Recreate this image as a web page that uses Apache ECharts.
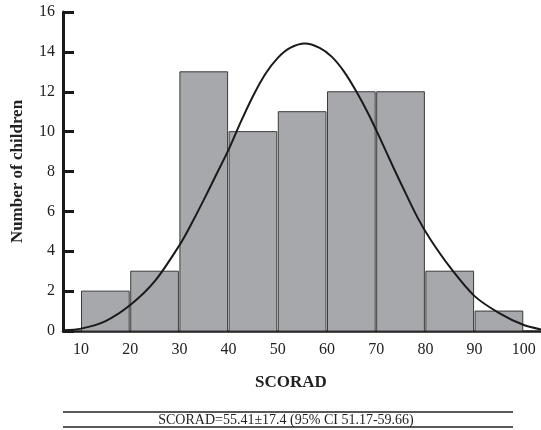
<!DOCTYPE html>
<html>
<head>
<meta charset="utf-8">
<script src="https://cdn.jsdelivr.net/npm/echarts@6/dist/echarts.min.js"></script>
<style>
html,body{margin:0;padding:0;background:#fff;}
#chart{width:541px;height:430px;}
</style>
</head>
<body>
<div id="chart"></div>
<script>
// Histogram bins (SCORAD) and counts
var binStarts = [10, 20, 30, 40, 50, 60, 70, 80, 90];
var binEnds   = [20, 30, 40, 50, 60, 70, 80, 90, 100];
var counts    = [2, 3, 13, 10, 11, 12, 12, 3, 1];

// Fitted normal curve
var curveX = [6.4, 10, 15, 20, 25, 30, 32.5, 35, 37.5, 40, 42.5, 45, 47.5, 50, 52.5, 55.5, 58.5, 61, 63.5, 66, 68.5, 71, 73.5, 76, 78.5, 81, 85, 90, 95, 100, 103.5];
var curveY = [0.04, 0.12, 0.5, 1.3, 2.5, 4.3, 5.4, 6.6, 7.85, 9.1, 10.5, 11.8, 12.9, 13.7, 14.2, 14.42, 14.2, 13.75, 13.0, 12.0, 10.85, 9.55, 8.2, 6.9, 5.65, 4.6, 3.2, 1.75, 0.9, 0.3, 0.08];

var xTickLabels = [10, 20, 30, 40, 50, 60, 70, 80, 90, 100];

var yAxisTitle = 'Number of children';
var xAxisTitle = 'SCORAD';
var footnote = 'SCORAD=55.41\u00b117.4 (95% CI 51.17-59.66)';

var histData = binStarts.map(function (s, i) { return [s, binEnds[i], counts[i]]; });
var curveData = curveX.map(function (x, i) { return [x, curveY[i]]; });

var FONT = '"Liberation Serif", "Times New Roman", serif';

var chart = echarts.init(document.getElementById('chart'), null, {renderer: 'canvas'});
chart.setOption({
  animation: false,
  backgroundColor: '#fff',
  grid: {left: 63, right: 0, top: 12, bottom: 99, containLabel: false},
  xAxis: {
    type: 'value',
    min: 6.34,
    max: 103.5,
    axisLine: {show: true, onZero: false, lineStyle: {color: '#1a1a1a', width: 2.5}},
    axisTick: {show: false},
    splitLine: {show: false},
    axisLabel: {
      customValues: xTickLabels,
      color: '#222',
      fontFamily: FONT,
      fontSize: 16,
      margin: 11
    }
  },
  yAxis: {
    type: 'value',
    min: 0,
    max: 16,
    interval: 2,
    name: yAxisTitle,
    nameLocation: 'middle',
    nameGap: 37,
    nameTextStyle: {fontFamily: FONT, fontSize: 17, fontWeight: 'bold', color: '#222'},
    axisLine: {show: true, lineStyle: {color: '#1a1a1a', width: 3}},
    axisTick: {show: true, inside: true, length: 11, lineStyle: {color: '#1a1a1a', width: 3}},
    splitLine: {show: false},
    axisLabel: {color: '#222', fontFamily: FONT, fontSize: 16, margin: 8}
  },
  graphic: [
    {type: 'text', style: {text: xAxisTitle, font: 'bold 17px ' + FONT, fill: '#222', x: 291, y: 383, align: 'center', verticalAlign: 'middle'}},
    {type: 'line', shape: {x1: 63, y1: 412, x2: 513, y2: 412}, style: {stroke: '#222', lineWidth: 1.3}},
    {type: 'text', style: {text: footnote, font: '14px ' + FONT, fill: '#222', x: 286, y: 420, align: 'center', verticalAlign: 'middle'}},
    {type: 'line', shape: {x1: 63, y1: 427, x2: 513, y2: 427}, style: {stroke: '#222', lineWidth: 1.3}}
  ],
  series: [
    {
      type: 'custom',
      data: histData,
      encode: {x: [0, 1], y: 2},
      z: 2,
      renderItem: function (params, api) {
        var p0 = api.coord([api.value(0), api.value(2)]);
        var p1 = api.coord([api.value(1), 0]);
        return {
          type: 'rect',
          shape: {x: p0[0] + 0.5, y: p0[1], width: p1[0] - p0[0] - 1.5, height: p1[1] - p0[1]},
          style: {fill: '#a7a8ab', stroke: '#3a3a3a', lineWidth: 1}
        };
      }
    },
    {
      type: 'line',
      data: curveData,
      smooth: 0.3,
      showSymbol: false,
      symbol: 'none',
      z: 5,
      lineStyle: {color: '#1a1a1a', width: 2}
    }
  ]
});
</script>
</body>
</html>
